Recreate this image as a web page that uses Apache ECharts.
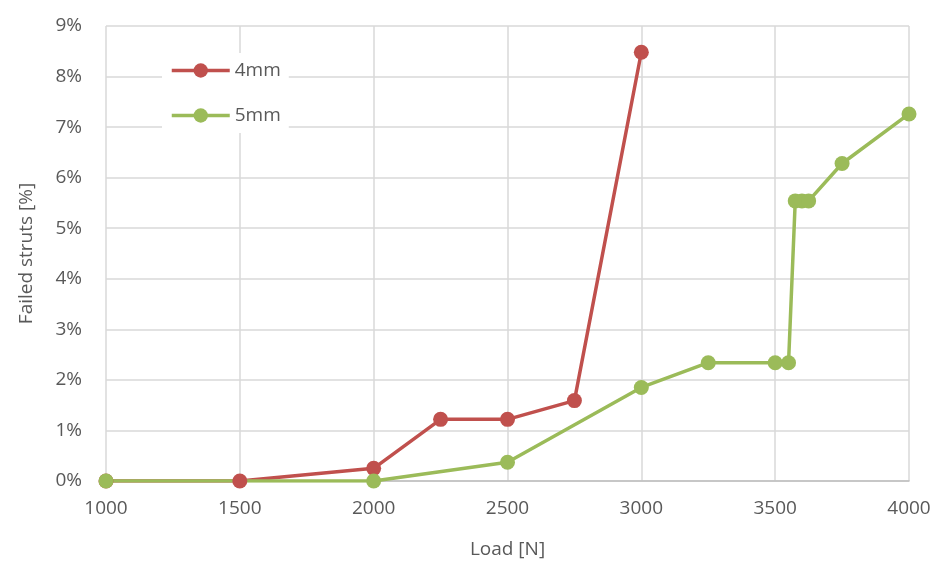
<!DOCTYPE html>
<html>
<head>
<meta charset="utf-8">
<script src="https://cdn.jsdelivr.net/npm/echarts@6/dist/echarts.min.js"></script>
<style>
  html, body { margin: 0; padding: 0; background: #fff; }
  #chart { width: 934px; height: 563px; }
</style>
</head>
<body>
<div id="chart"></div>
<script>
// Load [N] vs failed struts share (as fraction)
const load4mm = [1000, 1500, 2000, 2250, 2500, 2750, 3000];
const failed4mm = [0, 0, 0.0025, 0.0122, 0.0122, 0.0159, 0.0848];

const load5mm = [1000, 2000, 2500, 3000, 3250, 3500, 3550, 3575, 3600, 3625, 3750, 4000];
const failed5mm = [0, 0, 0.0037, 0.0185, 0.0234, 0.0234, 0.0234, 0.0554, 0.0554, 0.0554, 0.0628, 0.0726];

const seriesNames = ['4mm', '5mm'];
const xTicks = [1000, 1500, 2000, 2500, 3000, 3500, 4000];

const pairs = (xs, ys) => xs.map((x, i) => [x, ys[i]]);
const font = 'Open Sans, Liberation Sans, sans-serif';

const chart = echarts.init(document.getElementById('chart'));
chart.setOption({
  animation: false,
  backgroundColor: '#ffffff',
  grid: { left: 106, right: 25, top: 26, bottom: 82, outerBoundsMode: 'none', containLabel: false },
  legend: {
    left: 162, top: 53, orient: 'vertical', itemGap: 26,
    backgroundColor: '#ffffff', padding: [8, 8, 8, 8],
    itemWidth: 58, itemHeight: 18,
    lineStyle: { width: 3.5 },
    textStyle: { fontFamily: font, fontSize: 19, color: '#595959' },
    data: seriesNames
  },
  xAxis: {
    type: 'value', min: xTicks[0], max: xTicks[xTicks.length - 1], interval: 500,
    name: 'Load [N]', nameLocation: 'middle', nameGap: 59,
    nameTextStyle: { fontFamily: font, fontSize: 19, color: '#595959' },
    axisLine: { show: true, lineStyle: { color: '#bfbfbf', width: 1.5 } },
    axisTick: { show: false },
    axisLabel: { fontFamily: font, fontSize: 19, color: '#595959', margin: 18, formatter: v => String(v) },
    splitLine: { show: true, lineStyle: { color: '#d9d9d9', width: 1.5 } }
  },
  yAxis: {
    type: 'value', min: 0, max: 0.09, interval: 0.01,
    name: 'Failed struts [%]', nameLocation: 'middle', nameGap: 70,
    nameTextStyle: { fontFamily: font, fontSize: 19, color: '#595959' },
    axisLine: { show: false },
    axisTick: { show: false },
    axisLabel: {
      fontFamily: font, fontSize: 19, color: '#595959', margin: 24,
      formatter: v => Math.round(v * 100) + '%'
    },
    splitLine: { show: true, lineStyle: { color: '#d9d9d9', width: 1.5 } }
  },
  series: [
    {
      name: seriesNames[0], type: 'line', data: pairs(load4mm, failed4mm),
      symbol: 'circle', symbolSize: 15,
      itemStyle: { color: '#c0504d' }, lineStyle: { color: '#c0504d', width: 3.5 }
    },
    {
      name: seriesNames[1], type: 'line', data: pairs(load5mm, failed5mm),
      symbol: 'circle', symbolSize: 15,
      itemStyle: { color: '#9bbb59' }, lineStyle: { color: '#9bbb59', width: 3.5 }
    }
  ]
});
</script>
</body>
</html>
